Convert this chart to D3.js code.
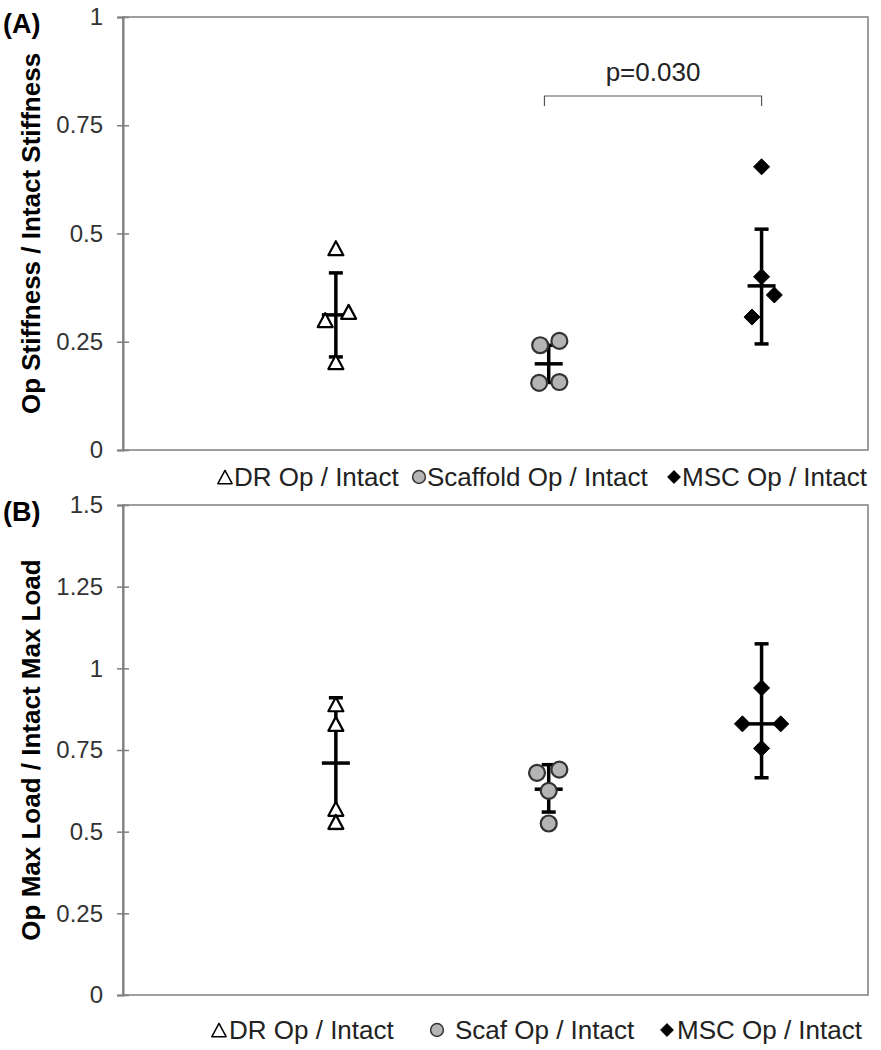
<!DOCTYPE html>
<html>
<head>
<meta charset="utf-8">
<script src="https://cdn.jsdelivr.net/npm/d3@7"></script>
<style>
  body { margin: 0; background: #fff; }
  text { font-family: "Liberation Sans", Arial, sans-serif; }
</style>
</head>
<body>
<div id="chart"></div>
<script>
var W = 881, H = 1050;

// groups sit at x = 1, 2, 3 on a 0..3.5 axis
var groups = ['DR', 'Scaffold', 'MSC'];

// panel A: stiffness ratio
var stiffX = [[1.0, 0.95, 1.06, 1.0], [1.96, 2.05, 1.955, 2.05], [3.0, 3.0, 3.06, 2.955]];
var stiffY = [[0.466, 0.30, 0.319, 0.203], [0.242, 0.252, 0.155, 0.157], [0.654, 0.40, 0.358, 0.307]];
var stiffMean = [0.312, 0.199, 0.379];
var stiffHi = [0.409, 0.242, 0.51];
var stiffLo = [0.215, 0.156, 0.245];
var stiffTicks = [0, 0.25, 0.5, 0.75, 1];
var stiffLegend = ['DR Op / Intact', 'Scaffold Op / Intact', 'MSC Op / Intact'];

// panel B: max load ratio
var loadX = [[1.0, 1.0, 1.0, 1.0], [1.945, 2.05, 2.0, 2.0], [3.0, 2.91, 3.09, 3.0]];
var loadY = [[0.89, 0.83, 0.57, 0.53], [0.68, 0.69, 0.625, 0.525], [0.94, 0.83, 0.83, 0.755]];
var loadMean = [0.71, 0.63, 0.83];
var loadHi = [0.91, 0.705, 1.075];
var loadLo = [0.51, 0.56, 0.665];
var loadTicks = [0, 0.25, 0.5, 0.75, 1, 1.25, 1.5];
var loadLegend = ['DR Op / Intact', 'Scaf Op / Intact', 'MSC Op / Intact'];

var svg = d3.select('#chart').append('svg')
    .attr('width', W)
    .attr('height', H);

var fills = ['#fff', '#b4b4b4', '#000'];

// triangle, circle, diamond (a square turned 45 degrees)
function shapePath(i, s) {
    if (i == 0) {
        var a = 7.5 * s, t = 7 * s;
        return 'M0,' + (-t) + 'L' + a + ',' + t + 'L' + (-a) + ',' + t + 'Z';
    }
    if (i == 1) return d3.symbol().type(d3.symbolCircle).size(200 * s * s)();
    var r = 8 * s;
    return 'M0,' + (-r) + 'L' + r + ',0L0,' + r + 'L' + (-r) + ',0Z';
}

function marker(g, i, x, y, scale) {
    var s = scale || 1;
    g.append('path')
        .attr('d', shapePath(i, s))
        .attr('transform', 'translate(' + x + ',' + y + ')')
        .attr('fill', fills[i])
        .attr('stroke', i == 1 ? '#333' : '#000')
        .attr('stroke-linejoin', 'round')
        .attr('stroke-width', i == 2 ? 1 : (s < 1 ? 1.5 : 2.2));
}

function panel(opt) {
    var m = opt.margin;
    var w = W - m.left - m.right;
    var h = opt.height;
    var g = svg.append('g').attr('transform', 'translate(' + m.left + ',' + m.top + ')');

    var x = d3.scaleLinear().domain([0, 3.5]).range([0, w]);
    var y = d3.scaleLinear().domain([0, opt.max]).range([h, 0]);

    // frame
    g.append('rect')
        .attr('width', w).attr('height', h)
        .attr('fill', 'none').attr('stroke', '#7f7f7f').attr('stroke-width', 1.5);

    var yAxis = g.append('g')
        .call(d3.axisLeft(y).tickValues(opt.ticks).tickSize(6).tickFormat(d => String(d)));
    yAxis.select('.domain').attr('stroke', '#7f7f7f').attr('stroke-width', 2);
    yAxis.selectAll('.tick line').attr('stroke', '#7f7f7f').attr('stroke-width', 1.5)
        .attr('x1', 6).attr('x2', -6);
    yAxis.selectAll('.tick text').attr('x', -20)
        .attr('font-size', 24).attr('fill', '#333')
        .style('font-family', '"Liberation Sans", Arial, sans-serif');

    g.append('text')
        .attr('transform', 'rotate(-90)')
        .attr('x', -h / 2).attr('y', -m.left + 40)
        .attr('text-anchor', 'middle')
        .attr('font-size', 26).attr('font-weight', 'bold')
        .text(opt.title);

    svg.append('text')
        .attr('x', 3).attr('y', m.top + 16)
        .attr('font-size', 27).attr('font-weight', 'bold')
        .text(opt.tag);

    // error bars and means
    groups.forEach((gr, i) => {
        var cx = x(i + 1);
        var eb = g.append('g').attr('stroke', '#000').attr('stroke-width', 3.5);
        eb.append('line').attr('x1', cx).attr('x2', cx).attr('y1', y(opt.hi[i])).attr('y2', y(opt.lo[i]));
        eb.append('line').attr('x1', cx - 7).attr('x2', cx + 7).attr('y1', y(opt.hi[i])).attr('y2', y(opt.hi[i]));
        eb.append('line').attr('x1', cx - 7).attr('x2', cx + 7).attr('y1', y(opt.lo[i])).attr('y2', y(opt.lo[i]));
        eb.append('line').attr('x1', cx - 14).attr('x2', cx + 14).attr('y1', y(opt.mean[i])).attr('y2', y(opt.mean[i]));
    });

    // points
    groups.forEach((gr, i) => {
        opt.ys[i].forEach((v, j) => {
            marker(g, i, x(opt.xs[i][j]), y(v));
        });
    });

    // legend under the axis
    var lg = g.append('g').attr('transform', 'translate(0,' + (h + opt.legendDy) + ')');
    opt.legend.forEach((t, i) => {
        var lx = opt.legendX[i] - m.left;
        marker(lg, i, lx + 7, -9, i == 0 ? 0.95 : 0.8);
        lg.append('text')
            .attr('x', lx + opt.legendGap[i]).attr('y', 0)
            .attr('font-size', 26).attr('fill', '#222')
            .text(t);
    });

    return { g: g, x: x, y: y };
}

var A = panel({
    tag: '(A)', title: 'Op Stiffness / Intact Stiffness',
    margin: { top: 17, left: 123, right: 13 }, height: 433, max: 1,
    ticks: stiffTicks, xs: stiffX, ys: stiffY,
    mean: stiffMean, hi: stiffHi, lo: stiffLo,
    legend: stiffLegend, legendX: [218, 412, 667], legendGap: [16, 15, 15], legendDy: 36
});

// significance bracket between scaffold and MSC
var br = A.g.append('g').attr('stroke', '#555').attr('stroke-width', 1.2).attr('fill', 'none');
var by = A.y(0.8176), bx1 = A.x(1.98), bx2 = A.x(3.0);
br.append('path')
    .attr('d', 'M' + bx1 + ',' + (by + 10) + 'V' + by + 'H' + bx2 + 'V' + (by + 10));
A.g.append('text')
    .attr('x', (bx1 + bx2) / 2).attr('y', A.y(0.853))
    .attr('text-anchor', 'middle')
    .attr('font-size', 26).attr('fill', '#222')
    .text('p=0.030');

var B = panel({
    tag: '(B)', title: 'Op Max Load / Intact Max Load',
    margin: { top: 505, left: 123, right: 13 }, height: 490, max: 1.5,
    ticks: loadTicks, xs: loadX, ys: loadY,
    mean: loadMean, hi: loadHi, lo: loadLo,
    legend: loadLegend, legendX: [212, 430, 660], legendGap: [17, 25, 17], legendDy: 44
});
</script>
</body>
</html>
